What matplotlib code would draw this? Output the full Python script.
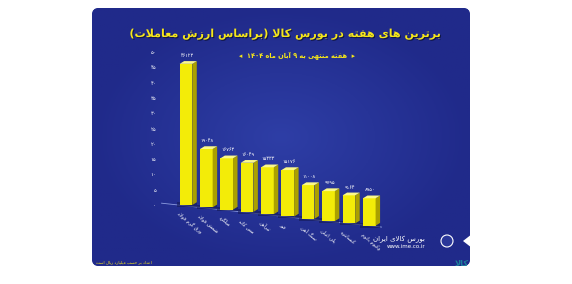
import re
import numpy as np
import matplotlib
matplotlib.use('Agg')
import matplotlib.pyplot as plt
from matplotlib.patches import FancyBboxPatch, Polygon
import matplotlib.patheffects as pe

# data (thousand billion rials)
products = ['ورق گرم فولاد', 'شمش فولاد', 'میلگرد', 'مس کاتد', 'تیرآهن',
            'قیر', 'سنگ آهن', 'پلی اتیلن', 'کنسانتره', 'وکیوم باتوم']
values = [46.123, 19.048, 16.763, 16.049, 15.333, 15.176, 11.008, 9.795, 9.164, 8.950]
value_labels = ['46123', '19048', '16763', '16049', '15333', '15176', '11008', '9795', '9164', '8950']
yticks = [0, 5, 10, 15, 20, 25, 30, 35, 40, 45, 50]

title = 'برترین های هفته در بورس کالا (براساس ارزش معاملات)'
subtitle = 'هفته منتهی به 9 آبان ماه 1404'
footer = 'اعداد بر حسب میلیارد ریال است'


# --- minimal persian shaping, matplotlib has no arabic shaping ---
DUAL = {
    'ب': 'ﺏﺐﺑﺒ', 'پ': 'ﭖﭗﭘﭙ', 'ت': 'ﺕﺖﺗﺘ', 'ث': 'ﺙﺚﺛﺜ', 'ج': 'ﺝﺞﺟﺠ',
    'چ': 'ﭺﭻﭼﭽ', 'ح': 'ﺡﺢﺣﺤ', 'خ': 'ﺥﺦﺧﺨ', 'س': 'ﺱﺲﺳﺴ', 'ش': 'ﺵﺶﺷﺸ',
    'ص': 'ﺹﺺﺻﺼ', 'ض': 'ﺽﺾﺿﻀ', 'ط': 'ﻁﻂﻃﻄ', 'ظ': 'ﻅﻆﻇﻈ', 'ع': 'ﻉﻊﻋﻌ',
    'غ': 'ﻍﻎﻏﻐ', 'ف': 'ﻑﻒﻓﻔ', 'ق': 'ﻕﻖﻗﻘ', 'ک': 'ﮎﮏﮐﮑ', 'گ': 'ﮒﮓﮔﮕ',
    'ل': 'ﻝﻞﻟﻠ', 'م': 'ﻡﻢﻣﻤ', 'ن': 'ﻥﻦﻧﻨ', 'ه': 'ﻩﻪﻫﻬ', 'ی': 'ﯼﯽﯾﯿ',
    'ئ': 'ﺉﺊﺋﺌ',
}
RIGHT = {
    'ا': 'ﺍﺎ', 'آ': 'ﺁﺂ', 'أ': 'ﺃﺄ', 'د': 'ﺩﺪ', 'ذ': 'ﺫﺬ', 'ر': 'ﺭﺮ',
    'ز': 'ﺯﺰ', 'ژ': 'ﮊﮋ', 'و': 'ﻭﻮ', 'ة': 'ﺓﺔ',
}
LAMALEF = {'ا': 'ﻻﻼ', 'آ': 'ﻵﻶ', 'أ': 'ﻷﻸ'}
FA_DIGITS = str.maketrans('0123456789', '۰۱۲۳۴۵۶۷۸۹')
MIRROR = str.maketrans('()', ')(')


def shape(s):
    out = []
    i = 0
    n = len(s)
    while i < n:
        c = s[i]
        prev_j = i > 0 and s[i - 1] in DUAL
        nxt = s[i + 1] if i + 1 < n else ''
        if c == 'ل' and nxt in LAMALEF:
            out.append(LAMALEF[nxt][1 if prev_j else 0])
            i += 2
            continue
        next_j = nxt in DUAL or nxt in RIGHT
        if c in DUAL:
            f = DUAL[c]
            if prev_j and next_j:
                out.append(f[3])
            elif prev_j:
                out.append(f[1])
            elif next_j:
                out.append(f[2])
            else:
                out.append(f[0])
        elif c in RIGHT:
            out.append(RIGHT[c][1 if prev_j else 0])
        elif c != '\u200c':
            out.append(c)
        i += 1
    return ''.join(out)


def fa(s):
    s = shape(s.translate(FA_DIGITS))
    parts = re.split(r'([0-9۰-۹A-Za-z.:/]+)', s)
    res = []
    for p in reversed(parts):
        if re.fullmatch(r'[0-9۰-۹A-Za-z.:/]+', p):
            res.append(p)
        else:
            res.append(p[::-1].translate(MIRROR))
    return ''.join(res)


plt.rcParams['font.family'] = ['DejaVu Sans']

W, H = 572, 284
fig = plt.figure(figsize=(W / 100, H / 100), dpi=100)
fig.patch.set_facecolor('white')

# background panel (pixel coordinates)
bg = fig.add_axes([0, 0, 1, 1])
bg.set_xlim(0, W)
bg.set_ylim(H, 0)
bg.axis('off')
panel = FancyBboxPatch((92, 8), 378, 258, boxstyle='round,pad=0,rounding_size=7',
                       facecolor='#2a3799', edgecolor='none')
bg.add_patch(panel)
gx, gy = np.meshgrid(np.linspace(-1, 1, 200), np.linspace(-1, 1, 140))
r = np.clip(np.sqrt(gx ** 2 + gy ** 2), 0, 1)
c0 = np.array([46, 62, 166]) / 255
c1 = np.array([32, 42, 138]) / 255
grad = c0[None, None, :] * (1 - r[..., None]) + c1[None, None, :] * r[..., None]
im = bg.imshow(grad, extent=(92, 470, 266, 8), aspect='auto', zorder=1)
im.set_clip_path(panel)

shadow = [pe.withSimplePatchShadow(offset=(0.8, -0.8), shadow_rgbFace='#101540', alpha=0.9)]
fig.text(285 / W, 1 - 34 / H, fa(title), color='#f5e61a', fontsize=8,
         fontweight='bold', ha='center', va='center', path_effects=shadow)
fig.text(297 / W, 1 - 56 / H, '◂  ' + fa(subtitle) + '  ▸', color='#f5e61a', fontsize=4.8,
         fontweight='bold', ha='center', va='center')
fig.text(96 / W, 1 - 262 / H, fa(footer), color='#f5e61a', fontsize=3,
         ha='left', va='center')

# logo area
fig.text(425 / W, 1 - 239 / H, fa('بورس کالای ایران'), color='white', fontsize=5,
         ha='right', va='center')
fig.text(425 / W, 1 - 247 / H, 'www.ime.co.ir', color='white', fontsize=4,
         ha='right', va='center')
bg.add_patch(plt.Circle((447, 241), 6, facecolor='#2a3799', edgecolor='white', lw=0.8, zorder=3))
bg.add_patch(Polygon([[472, 234], [472, 248], [463, 241]], closed=True,
                     facecolor='white', edgecolor='none', zorder=3))
fig.text(462 / W, 1 - 264 / H, fa('کالا'), color='#1d7f9a', fontsize=6,
         fontweight='bold', ha='center', va='center')

# chart, the floor slopes down to the right like the 3d original
ax = fig.add_axes([159.5 / W, 1 - 229.5 / H, 222 / W, 177.5 / H])
ax.set_facecolor('none')
x = np.arange(len(values))
floor = -0.75 * x
w = 0.62
dx, dy = 0.22, 0.9
ax.plot([-1.2, 9.7], [0.6, -0.75 * 9.7], color='#8d9ce0', lw=0.6, zorder=1)
for xi, f in zip(x, floor):
    sh = Polygon([[xi - w / 2 - 0.15, f - 0.6], [xi + w / 2 + dx, f - 0.6],
                  [xi + w / 2 + dx, f + dy], [xi - w / 2 - 0.15, f + dy]],
                 closed=True, facecolor='#141a55', alpha=0.6, edgecolor='none', zorder=2)
    ax.add_patch(sh)
bars = ax.bar(x, values, width=w, bottom=floor, color='#f3ec08', edgecolor='none', zorder=3)
for xi, f, v in zip(x, floor, values):
    t = f + v
    side = Polygon([[xi + w / 2, f], [xi + w / 2 + dx, f + dy], [xi + w / 2 + dx, t + dy], [xi + w / 2, t]],
                   closed=True, facecolor='#aaa000', edgecolor='none', zorder=3)
    top = Polygon([[xi - w / 2, t], [xi - w / 2 + dx, t + dy], [xi + w / 2 + dx, t + dy], [xi + w / 2, t]],
                  closed=True, facecolor='#fbf98a', edgecolor='none', zorder=3)
    ax.add_patch(side)
    ax.add_patch(top)
for xi, f, v, lab in zip(x, floor, values, value_labels):
    ax.text(xi + 0.05, f + v + dy + 1.0, fa(lab), color='white', fontsize=3.6,
            ha='center', va='bottom')
for xi, f, name in zip(x, floor, products):
    ax.text(xi - 0.3, f - 2.0, fa(name), color='white', fontsize=3.6, rotation=-40,
            rotation_mode='anchor', ha='left', va='top')

ax.set_xlim(-1.3, 9.6)
ax.set_ylim(-8, 50)
ax.set_yticks(yticks)
ax.set_yticklabels([fa(str(t)) for t in yticks])
ax.set_xticks([])
ax.tick_params(axis='y', length=0, labelsize=3.8, labelcolor='white', pad=2.5)
for s in ax.spines.values():
    s.set_visible(False)

fig.savefig('out.png', dpi=100, facecolor='white')
